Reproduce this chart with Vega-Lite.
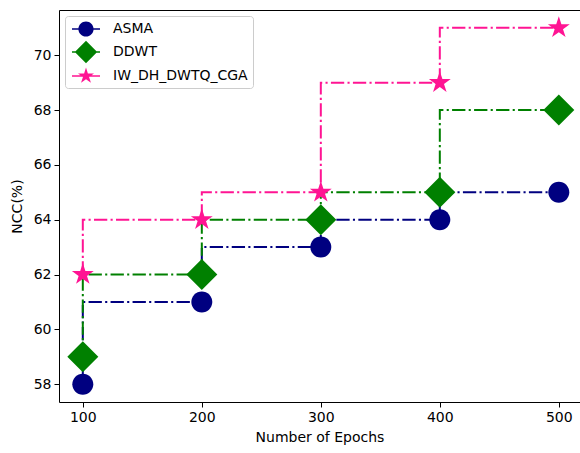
{
  "$schema": "https://vega.github.io/schema/vega-lite/v6.json",
  "autosize": "none",
  "width": 521,
  "height": 392,
  "padding": {"left": 59, "top": 10, "right": 0, "bottom": 51},
  "background": "white",
  "config": {
    "view": {"stroke": "#000000", "strokeWidth": 1},
    "font": "DejaVu Sans",
    "axis": {
      "labelFont": "DejaVu Sans", "titleFont": "DejaVu Sans",
      "labelFontSize": 14, "titleFontSize": 14, "titleFontWeight": "normal",
      "labelColor": "#000000", "titleColor": "#000000",
      "tickColor": "#000000", "tickSize": 5, "tickWidth": 1,
      "domain": false, "grid": false, "labelPadding": 3
    },
    "legend": {
      "labelFont": "DejaVu Sans", "labelFontSize": 14, "labelColor": "#000000",
      "orient": "top-left", "offset": 6, "padding": 5,
      "strokeColor": "#cccccc", "fillColor": "rgba(255,255,255,0.8)", "cornerRadius": 3,
      "symbolSize": 256, "rowPadding": 3, "labelOffset": 27, "symbolStrokeWidth": 0
    }
  },
  "data": {
    "values": [
      {"epochs": 100, "ncc": 58, "method": "ASMA"},
      {"epochs": 200, "ncc": 61, "method": "ASMA"},
      {"epochs": 300, "ncc": 63, "method": "ASMA"},
      {"epochs": 400, "ncc": 64, "method": "ASMA"},
      {"epochs": 500, "ncc": 65, "method": "ASMA"},
      {"epochs": 100, "ncc": 59, "method": "DDWT"},
      {"epochs": 200, "ncc": 62, "method": "DDWT"},
      {"epochs": 300, "ncc": 64, "method": "DDWT"},
      {"epochs": 400, "ncc": 65, "method": "DDWT"},
      {"epochs": 500, "ncc": 68, "method": "DDWT"},
      {"epochs": 100, "ncc": 62, "method": "IW_DH_DWTQ_CGA"},
      {"epochs": 200, "ncc": 64, "method": "IW_DH_DWTQ_CGA"},
      {"epochs": 300, "ncc": 65, "method": "IW_DH_DWTQ_CGA"},
      {"epochs": 400, "ncc": 69, "method": "IW_DH_DWTQ_CGA"},
      {"epochs": 500, "ncc": 71, "method": "IW_DH_DWTQ_CGA"}
    ]
  },
  "encoding": {
    "x": {
      "field": "epochs", "type": "quantitative",
      "scale": {"domain": [80, 517.8], "nice": false, "zero": false},
      "axis": {"values": [100, 200, 300, 400, 500], "title": "Number of Epochs", "titlePadding": 6}
    },
    "y": {
      "field": "ncc", "type": "quantitative",
      "scale": {"domain": [57.35, 71.65], "nice": false, "zero": false},
      "axis": {"values": [58, 60, 62, 64, 66, 68, 70], "title": "NCC(%)", "titlePadding": 9}
    },
    "color": {
      "field": "method", "type": "nominal",
      "scale": {"domain": ["ASMA", "DDWT", "IW_DH_DWTQ_CGA"], "range": ["#000080", "#008000", "#ff1493"]},
      "legend": {"title": null}
    }
  },
  "layer": [
    {
      "transform": [{"filter": "false"}],
      "mark": {"type": "point", "filled": true, "opacity": 1, "size": 256, "strokeWidth": 0},
      "encoding": {
        "shape": {
          "field": "method", "type": "nominal",
          "scale": {
            "domain": ["ASMA", "DDWT", "IW_DH_DWTQ_CGA"],
            "range": [
              "M-0.75,-0.1H2.75V0.1H-0.75ZM0.05,0A0.95,0.95 0 1,1 1.95,0A0.95,0.95 0 1,1 0.05,0Z",
              "M-0.75,-0.1H2.75V0.1H-0.75ZM1,-1.4L2.4,0L1,1.4L-0.4,0Z",
              "M-0.75,-0.1H2.75V0.1H-0.75ZM1,-1.05L1.236,-0.324L1.999,-0.324L1.381,0.124L1.617,0.849L1,0.401L0.383,0.849L0.619,0.124L0.001,-0.324L0.764,-0.324Z"
            ]
          },
          "legend": {"title": null}
        }
      }
    },
    {
      "mark": {"type": "line", "interpolate": "step-before", "strokeWidth": 2, "strokeDash": [13.3, 3.3, 2.1, 3.3]}
    },
    {
      "transform": [{"filter": "datum.method === 'ASMA'"}],
      "mark": {"type": "point", "filled": true, "opacity": 1, "size": 400, "strokeWidth": 0,
               "shape": "M-1.05,0A1.05,1.05 0 1,0 1.05,0A1.05,1.05 0 1,0 -1.05,0Z"}
    },
    {
      "transform": [{"filter": "datum.method === 'DDWT'"}],
      "mark": {"type": "point", "filled": true, "opacity": 1, "size": 400, "strokeWidth": 0,
               "shape": "M0,-1.55L1.55,0L0,1.55L-1.55,0Z"}
    },
    {
      "transform": [{"filter": "datum.method === 'IW_DH_DWTQ_CGA'"}],
      "mark": {"type": "point", "filled": true, "opacity": 1, "size": 400, "strokeWidth": 0,
               "shape": "M0,-1.15L0.258,-0.355L1.094,-0.355L0.418,0.136L0.676,0.930L0,0.439L-0.676,0.930L-0.418,0.136L-1.094,-0.355L-0.258,-0.355Z"}
    }
  ]
}
